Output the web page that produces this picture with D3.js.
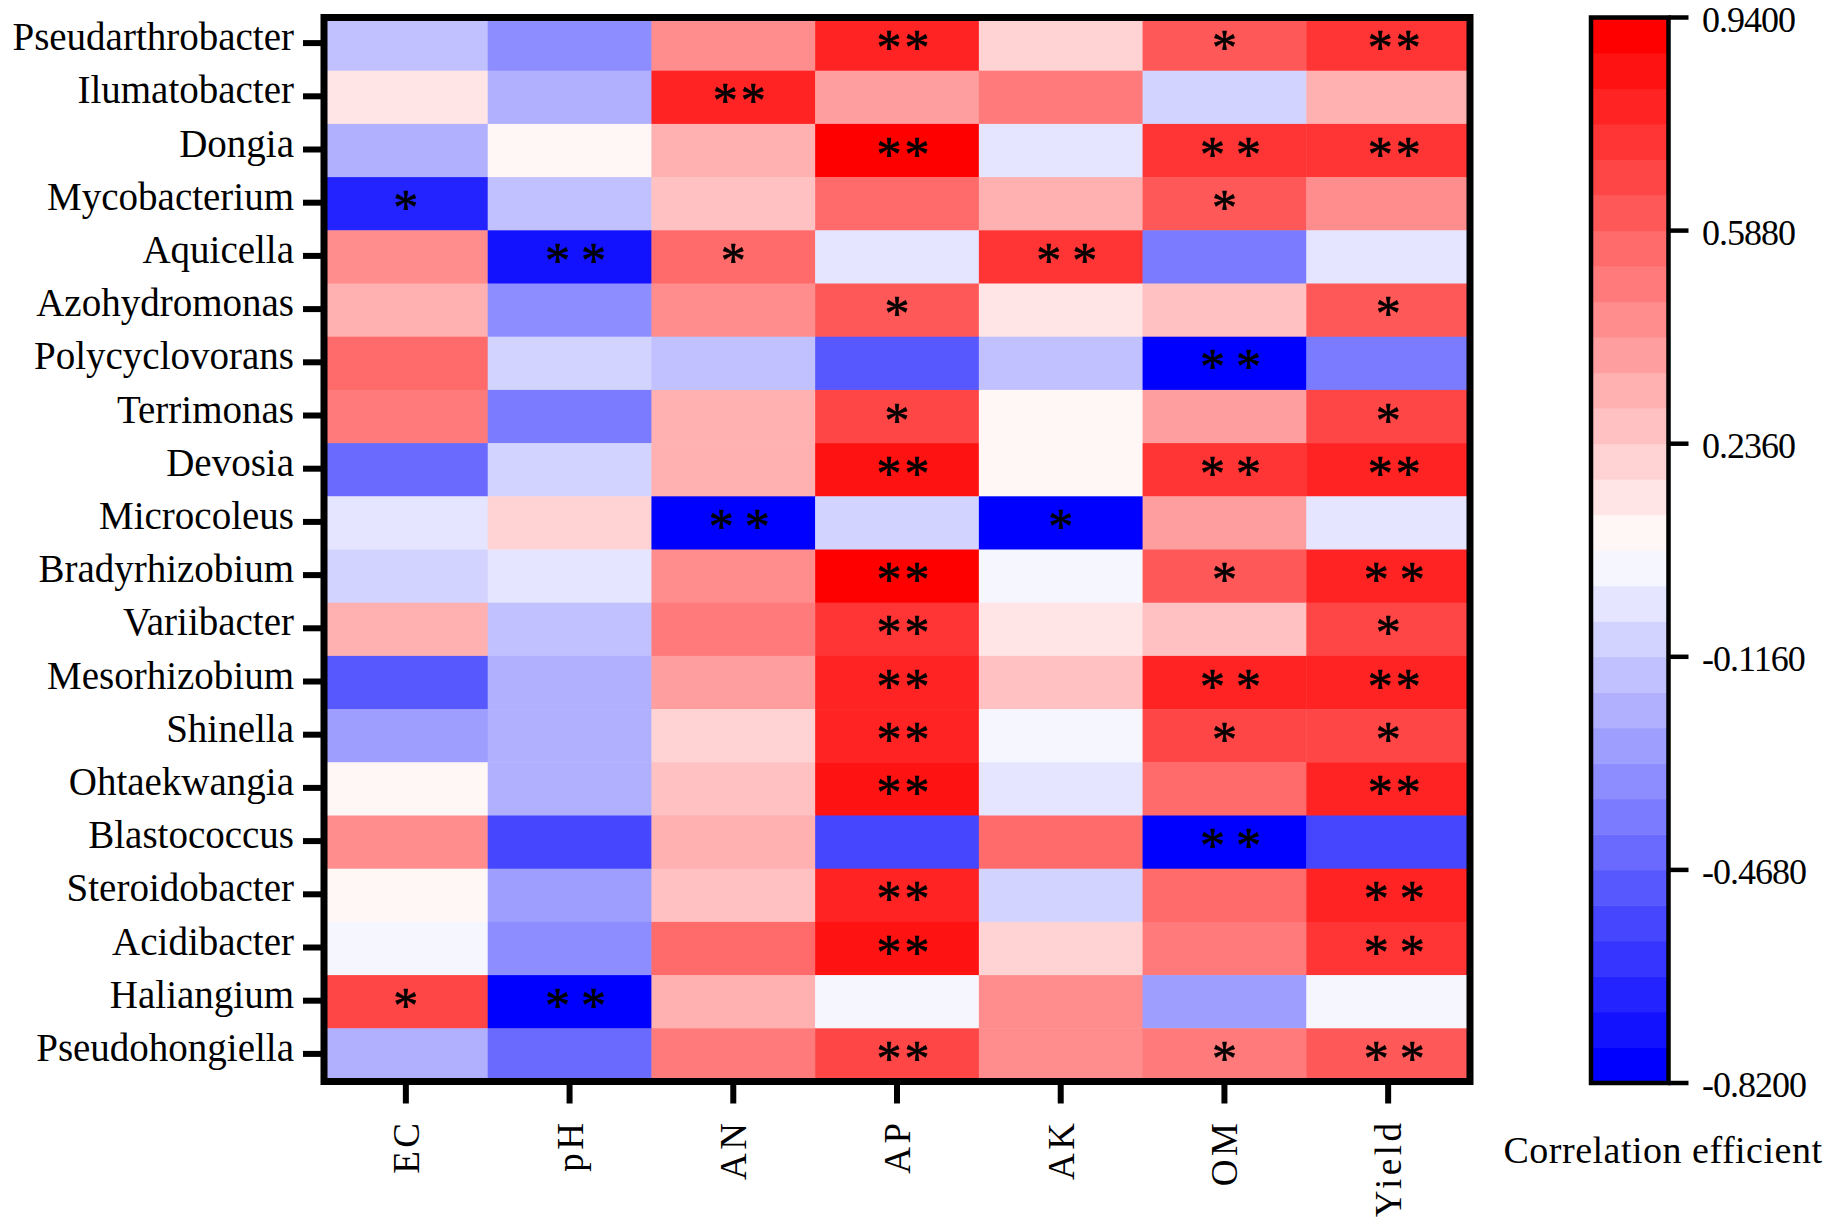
<!DOCTYPE html>
<html>
<head>
<meta charset="utf-8">
<script src="https://cdn.jsdelivr.net/npm/d3@7"></script>
<style>
  body { margin: 0; background: #fff; }
  text { font-family: "Liberation Serif", "Times New Roman", serif; fill: #000; }
</style>
</head>
<body>
<svg id="heat" width="1831" height="1223"></svg>
<script>
const genera = [
  "Pseudarthrobacter", "Ilumatobacter", "Dongia", "Mycobacterium", "Aquicella",
  "Azohydromonas", "Polycyclovorans", "Terrimonas", "Devosia", "Microcoleus",
  "Bradyrhizobium", "Variibacter", "Mesorhizobium", "Shinella", "Ohtaekwangia",
  "Blastococcus", "Steroidobacter", "Acidibacter", "Haliangium", "Pseudohongiella"
];

const factors = ["EC", "pH", "AN", "AP", "AK", "OM", "Yield"];

// correlation per genus, in the order of factors
const corr = [
  [-0.15, -0.32, 0.44, 0.79, 0.21, 0.62, 0.73],
  [0.15, -0.20, 0.79, 0.38, 0.50, -0.09, 0.32],
  [-0.20, 0.09, 0.32, 0.91, -0.03, 0.73, 0.75],
  [-0.67, -0.15, 0.26, 0.56, 0.32, 0.62, 0.44],
  [0.44, -0.73, 0.56, -0.03, 0.73, -0.38, -0.03],
  [0.32, -0.32, 0.44, 0.62, 0.15, 0.26, 0.62],
  [0.56, -0.09, -0.15, -0.50, -0.15, -0.79, -0.38],
  [0.50, -0.38, 0.32, 0.68, 0.09, 0.38, 0.68],
  [-0.44, -0.09, 0.32, 0.85, 0.09, 0.73, 0.79],
  [-0.03, 0.21, -0.79, -0.09, -0.77, 0.38, -0.03],
  [-0.09, -0.03, 0.44, 0.91, 0.03, 0.62, 0.78],
  [0.32, -0.15, 0.50, 0.73, 0.15, 0.26, 0.68],
  [-0.50, -0.20, 0.38, 0.79, 0.26, 0.79, 0.79],
  [-0.26, -0.20, 0.21, 0.78, 0.03, 0.68, 0.68],
  [0.09, -0.20, 0.26, 0.85, -0.03, 0.56, 0.79],
  [0.44, -0.56, 0.32, -0.56, 0.56, -0.79, -0.56],
  [0.09, -0.26, 0.26, 0.79, -0.09, 0.56, 0.79],
  [0.03, -0.32, 0.56, 0.85, 0.21, 0.50, 0.73],
  [0.68, -0.79, 0.32, 0.03, 0.44, -0.26, 0.03],
  [-0.20, -0.44, 0.50, 0.68, 0.44, 0.50, 0.62]
];

// significance marks, as printed
const stars = [
  ["", "", "", "**", "", "*", "**"],
  ["", "", "**", "", "", "", ""],
  ["", "", "", "**", "", "* *", "**"],
  ["*", "", "", "", "", "*", ""],
  ["", "* *", "*", "", "* *", "", ""],
  ["", "", "", "*", "", "", "*"],
  ["", "", "", "", "", "* *", ""],
  ["", "", "", "*", "", "", "*"],
  ["", "", "", "**", "", "* *", "**"],
  ["", "", "* *", "", "*", "", ""],
  ["", "", "", "**", "", "*", "* *"],
  ["", "", "", "**", "", "", "*"],
  ["", "", "", "**", "", "* *", "**"],
  ["", "", "", "**", "", "*", "*"],
  ["", "", "", "**", "", "", "**"],
  ["", "", "", "", "", "* *", ""],
  ["", "", "", "**", "", "", "* *"],
  ["", "", "", "**", "", "", "* *"],
  ["*", "* *", "", "", "", "", ""],
  ["", "", "", "**", "", "*", "* *"]
];

const colorTicks = [0.94, 0.588, 0.236, -0.116, -0.468, -0.82];
const colorTitle = "Correlation efficient";

const svg = d3.select("#heat");

const plotLeft = 324;
const plotRight = 1470;
const plotTop = 17.5;
const plotBottom = 1081.5;
const nBands = 30;
const starSize = 50;

// 30 discrete steps, blue -> white -> red
const half = nBands / 2;
const bandColors = d3.range(nBands).map(k =>
  k < half
    ? d3.interpolateRgb("#0000ff", "#ffffff")(k / (half - 0.5))
    : d3.interpolateRgb("#ff0000", "#ffffff")((nBands - 1 - k) / (half - 0.5))
);

const color = d3.scaleQuantize()
  .domain([colorTicks[colorTicks.length - 1], colorTicks[0]])
  .range(bandColors);

const x = d3.scaleBand().domain(factors).range([plotLeft, plotRight]);
const y = d3.scaleBand().domain(genera).range([plotTop, plotBottom]);

const cells = [];
genera.forEach((g, i) => {
  factors.forEach((f, j) => {
    cells.push({ genus: g, factor: f, value: corr[i][j], mark: stars[i][j] });
  });
});

svg.append("g")
  .selectAll("rect")
  .data(cells)
  .join("rect")
  .attr("x", d => x(d.factor))
  .attr("y", d => y(d.genus))
  .attr("width", x.bandwidth() + 0.5)
  .attr("height", y.bandwidth() + 0.5)
  .attr("fill", d => color(d.value));

// one glyph per asterisk; "**" sits tight, "* *" a bit wider
const starGlyphs = [];
cells.filter(d => d.mark).forEach(d => {
  const n = d.mark.replace(/ /g, "").length;
  const gap = d.mark.includes(" ") ? 36 : 28;
  const cx = x(d.factor) + x.bandwidth() / 2 + (n > 1 ? 6 : 0);
  const cy = y(d.genus) + y.bandwidth() / 2;
  for (let k = 0; k < n; k++) {
    starGlyphs.push({ x: cx + (k - (n - 1) / 2) * gap, y: cy });
  }
});

svg.append("g")
  .selectAll("text")
  .data(starGlyphs)
  .join("text")
  .attr("x", d => d.x)
  .attr("y", d => d.y + 20)
  .attr("text-anchor", "middle")
  .attr("font-size", starSize)
  .attr("stroke", "black")
  .attr("stroke-width", 0.6)
  .text("*");

// frame
svg.append("rect")
  .attr("x", plotLeft)
  .attr("y", plotTop)
  .attr("width", plotRight - plotLeft)
  .attr("height", plotBottom - plotTop)
  .attr("fill", "none")
  .attr("stroke", "black")
  .attr("stroke-width", 7);

// y axis ticks + labels
const yAxis = svg.append("g");
yAxis.selectAll("line")
  .data(genera)
  .join("line")
  .attr("x1", plotLeft - 21)
  .attr("x2", plotLeft)
  .attr("y1", d => y(d) + y.bandwidth() / 2 - 1)
  .attr("y2", d => y(d) + y.bandwidth() / 2 - 1)
  .attr("stroke", "black")
  .attr("stroke-width", 6);
yAxis.selectAll("text")
  .data(genera)
  .join("text")
  .attr("x", plotLeft - 30)
  .attr("y", d => y(d) + y.bandwidth() / 2 + 6)
  .attr("text-anchor", "end")
  .attr("font-size", 39)
  .text(d => d);

// x axis ticks + labels
const xAxis = svg.append("g");
xAxis.selectAll("line")
  .data(factors)
  .join("line")
  .attr("x1", d => x(d) + x.bandwidth() / 2)
  .attr("x2", d => x(d) + x.bandwidth() / 2)
  .attr("y1", plotBottom)
  .attr("y2", plotBottom + 22)
  .attr("stroke", "black")
  .attr("stroke-width", 6);
xAxis.selectAll("text")
  .data(factors)
  .join("text")
  .attr("transform", d => `translate(${x(d) + x.bandwidth() / 2 + 13}, ${plotBottom + 38}) rotate(-90)`)
  .attr("text-anchor", "end")
  .attr("font-size", 37)
  .attr("letter-spacing", 3.5)
  .text(d => d);

// colour bar
const barLeft = 1591;
const barRight = 1668.5;
const barY = d3.scaleLinear()
  .domain([colorTicks[colorTicks.length - 1], colorTicks[0]])
  .range([1083, 17.5]);

const bar = svg.append("g");
bar.selectAll("rect")
  .data(bandColors)
  .join("rect")
  .attr("x", barLeft)
  .attr("width", barRight - barLeft)
  .attr("y", c => barY(color.invertExtent(c)[1]))
  .attr("height", c => barY(color.invertExtent(c)[0]) - barY(color.invertExtent(c)[1]) + 0.5)
  .attr("fill", c => c);

bar.append("rect")
  .attr("x", barLeft)
  .attr("y", barY.range()[1])
  .attr("width", barRight - barLeft)
  .attr("height", barY.range()[0] - barY.range()[1])
  .attr("fill", "none")
  .attr("stroke", "black")
  .attr("stroke-width", 4.5);

bar.selectAll("line")
  .data(colorTicks)
  .join("line")
  .attr("x1", barRight)
  .attr("x2", barRight + 20)
  .attr("y1", d => barY(d))
  .attr("y2", d => barY(d))
  .attr("stroke", "black")
  .attr("stroke-width", 4.5);

bar.selectAll("text")
  .data(colorTicks)
  .join("text")
  .attr("x", 1702)
  .attr("y", d => barY(d) + 14)
  .attr("font-size", 36)
  .attr("letter-spacing", -1)
  .text(d => d3.format(".4f")(d).replace("−", "-"));

svg.append("text")
  .attr("x", 1663)
  .attr("y", 1163)
  .attr("text-anchor", "middle")
  .attr("font-size", 38)
  .attr("letter-spacing", 0.5)
  .text(colorTitle);
</script>
</body>
</html>
